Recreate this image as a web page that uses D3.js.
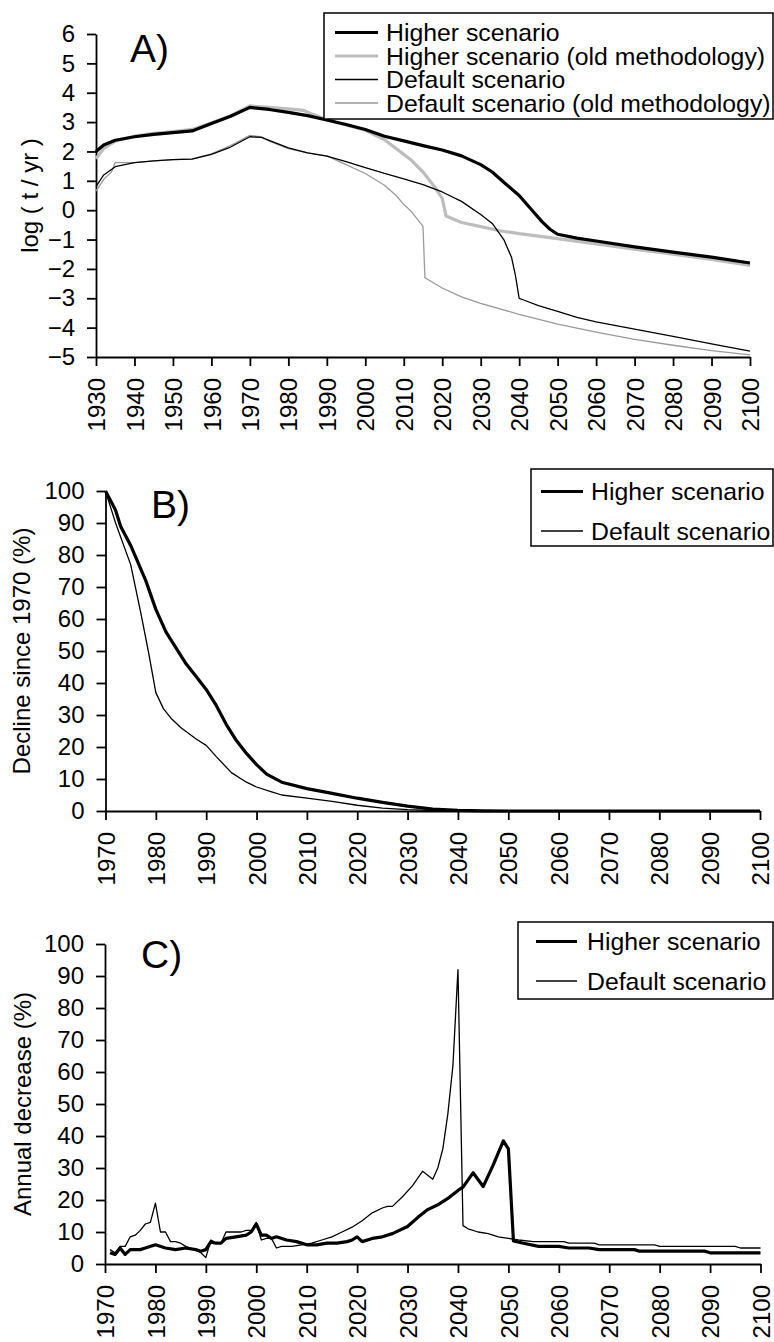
<!DOCTYPE html>
<html>
<head>
<meta charset="utf-8">
<script src="https://cdn.jsdelivr.net/npm/d3@7"></script>
<style>
  body { margin: 0; background: #fff; }
  text { font-family: "Liberation Sans", Arial, sans-serif; fill: #000; }
</style>
</head>
<body>
<svg id="grafico" width="774" height="1342"></svg>
<script>

// ---- dati ----

// A) log ( t / yr )
let aHigher = [[1930,2.0],[1932,2.22],[1935,2.38],[1940,2.5],[1945,2.58],[1950,2.64],[1955,2.7],[1958,2.85],[1960,2.95],[1965,3.2],[1970,3.5],[1975,3.43],[1980,3.33],[1985,3.22],[1990,3.07],[1995,2.92],[2000,2.75],[2005,2.52],[2010,2.36],[2015,2.2],[2020,2.05],[2025,1.85],[2030,1.55],[2033,1.3],[2036,0.95],[2040,0.5],[2043,0.05],[2046,-0.4],[2048,-0.65],[2050,-0.82],[2055,-0.95],[2060,-1.05],[2070,-1.25],[2080,-1.43],[2090,-1.6],[2100,-1.8]];
let aHigherOld = [[1930,1.75],[1932,2.1],[1935,2.35],[1940,2.52],[1945,2.62],[1950,2.68],[1955,2.75],[1960,2.97],[1965,3.22],[1970,3.55],[1975,3.5],[1980,3.45],[1984,3.4],[1986,3.28],[1990,3.08],[1995,2.9],[2000,2.72],[2005,2.4],[2008,2.1],[2012,1.7],[2015,1.3],[2018,0.8],[2020,0.4],[2021,-0.2],[2025,-0.42],[2030,-0.56],[2035,-0.7],[2040,-0.8],[2050,-0.97],[2060,-1.15],[2070,-1.33],[2080,-1.5],[2090,-1.68],[2100,-1.88]];
let aDefault = [[1930,0.8],[1932,1.2],[1935,1.48],[1940,1.62],[1945,1.68],[1950,1.72],[1955,1.74],[1960,1.9],[1965,2.15],[1970,2.5],[1973,2.48],[1975,2.38],[1980,2.12],[1985,1.95],[1990,1.84],[1995,1.65],[2000,1.45],[2005,1.25],[2010,1.07],[2015,0.87],[2020,0.62],[2025,0.3],[2030,-0.15],[2033,-0.45],[2036,-1.0],[2038,-1.6],[2039,-2.2],[2040,-3.0],[2041,-3.05],[2045,-3.25],[2050,-3.45],[2055,-3.65],[2060,-3.8],[2070,-4.05],[2080,-4.3],[2090,-4.55],[2100,-4.8]];
let aDefaultOld = [[1930,0.65],[1932,1.05],[1934,1.3],[1935,1.62],[1940,1.62],[1945,1.68],[1950,1.72],[1955,1.75],[1960,1.92],[1965,2.2],[1970,2.55],[1973,2.5],[1975,2.35],[1980,2.1],[1985,1.95],[1990,1.85],[1995,1.55],[2000,1.25],[2005,0.85],[2008,0.5],[2010,0.2],[2012,-0.05],[2015,-0.55],[2015.5,-2.3],[2020,-2.65],[2025,-2.95],[2030,-3.17],[2040,-3.55],[2050,-3.88],[2060,-4.15],[2070,-4.4],[2080,-4.6],[2090,-4.78],[2100,-4.93]];

// B) Decline since 1970 (%)
let bHigher = [[1970,100],[1971,97],[1972,94],[1973,89],[1975,83],[1978,72],[1980,63],[1982,56],[1984,51],[1986,46],[1988,42],[1990,38],[1992,33],[1994,27],[1996,22],[1998,18],[2000,14.5],[2002,11.5],[2005,9],[2010,7],[2015,5.5],[2020,4],[2025,2.7],[2030,1.5],[2035,0.6],[2040,0.2],[2045,0.05],[2050,0],[2100,0]];
let bDefault = [[1970,100],[1972,90],[1975,77],[1977,62],[1978.5,50],[1980,37],[1981.5,32],[1983,29],[1985,26],[1988,22.5],[1990,20.5],[1992,17],[1995,12],[1998,9],[2000,7.5],[2003,6],[2005,5],[2010,4],[2015,3],[2020,1.8],[2025,0.9],[2030,0.4],[2035,0.15],[2040,0],[2100,0]];

// C) Annual decrease (%)
let cHigher = [[1971,3.5],[1972,3],[1973,5],[1974,3],[1975,4.5],[1977,4.5],[1978,5],[1980,6],[1982,5],[1984,4.5],[1986,5],[1988,4.5],[1989,4],[1990,4.5],[1991,7],[1992,6.5],[1993,6.5],[1994,8],[1996,8.5],[1998,9],[1999,10],[2000,12.5],[2001,9],[2002,9],[2003,8],[2004,8.5],[2006,7.5],[2008,7],[2010,6],[2012,6],[2014,6.5],[2016,6.5],[2018,7],[2019,7.5],[2020,8.5],[2021,7],[2023,8],[2025,8.5],[2027,9.5],[2030,11.7],[2032,14.5],[2034,17],[2036,18.5],[2038,20.5],[2040,23],[2041,24],[2043,28.5],[2045,24.2],[2047,31],[2049,38.5],[2050,36],[2051,7.2],[2053,6.5],[2056,5.5],[2060,5.5],[2062,5],[2066,5],[2068,4.5],[2075,4.5],[2076,4],[2089,4],[2090,3.5],[2100,3.5]];
let cDefault = [[1971,4.5],[1972,3.5],[1973,5.5],[1974,5.5],[1975,8.5],[1976,9],[1977,10.5],[1978,12.5],[1979,13],[1980,19],[1981,10],[1982,10],[1983,7],[1984,7],[1985,6.5],[1986,5.5],[1987,5],[1988,4.5],[1989,3.5],[1990,2],[1991,7.5],[1992,6.5],[1993,6.5],[1994,10],[1995,10],[1996,10],[1997,10],[1998,10.5],[1999,10.5],[2000,13],[2001,7.5],[2002,8],[2003,8],[2004,5],[2005,5.5],[2007,5.5],[2009,6],[2011,6.5],[2013,7.5],[2015,8.5],[2017,10],[2019,11.5],[2021,13.5],[2023,16],[2025,17.5],[2026,18],[2027,18],[2029,21],[2031,24.5],[2033,29],[2035,26.5],[2036,30],[2037,36],[2038,47],[2039,62],[2040,92],[2041,12],[2042,11],[2044,10],[2046,9.5],[2048,8.5],[2050,8],[2052,7.5],[2055,7],[2061,7],[2062,6.5],[2067,6.5],[2068,6],[2079,6],[2080,5.5],[2095,5.5],[2096,5],[2100,5]];

// tick
let aYearTicks = d3.range(1930, 2101, 10);
let bcYearTicks = d3.range(1970, 2101, 10);
let aValueTicks = d3.range(-5, 7, 1);
let bcValueTicks = d3.range(0, 101, 10);

// stili delle serie
let stile = {
    higher:     { color: "#000000", width: 3.2 },
    higherOld:  { color: "#bdbdbd", width: 3.2 },
    def:        { color: "#000000", width: 1.3 },
    defOld:     { color: "#9a9a9a", width: 1.3 }
};

let svg = d3.select("#grafico");


// Funzione per disegnare un pannello con assi e linee
function disegnaPannello(p) {
    let x = d3.scaleLinear().domain(p.xDomain).range([p.left, p.right]);
    let y = d3.scaleLinear().domain(p.yDomain).range([p.bottom, p.top]);

    let g = svg.append("g");

    // asse y
    let ay = g.append("g")
        .attr("transform", `translate(${p.left},0)`)
        .call(d3.axisLeft(y).tickValues(p.yTicks).tickSize(9).tickSizeOuter(0).tickPadding(12).tickFormat(d3.format("d")));

    // asse x
    let ax = g.append("g")
        .attr("transform", `translate(0,${p.bottom})`)
        .call(d3.axisBottom(x).tickValues(p.xTicks).tickSize(9).tickSizeOuter(0).tickFormat(d3.format("d")));

    ax.selectAll(".tick text")
        .attr("transform", "rotate(-90)")
        .attr("text-anchor", "end")
        .attr("x", -21)
        .attr("y", 0)
        .attr("dy", "0.36em");

    [ax, ay].forEach((a) => {
        a.selectAll("path, line").attr("stroke", "#000").attr("stroke-width", 1.8);
        a.selectAll("text").style("font-size", "24px").style("font-family", "'Liberation Sans', Arial, sans-serif");
    });

    // titolo asse y
    g.append("text")
        .attr("transform", `translate(${p.ylabelX},${(p.top + p.bottom) / 2}) rotate(-90)`)
        .attr("text-anchor", "middle")
        .style("font-size", "24px")
        .text(p.ylabel);

    // lettera del pannello
    g.append("text")
        .attr("x", p.letterX)
        .attr("y", p.letterY)
        .style("font-size", "39px")
        .text(p.letter);

    let linea = d3.line()
        .x((d) => x(d[0]))
        .y((d) => y(d[1]));

    p.series.forEach((s) => {
        g.append("path")
            .datum(s.data)
            .attr("d", linea)
            .attr("fill", "none")
            .attr("stroke", s.style.color)
            .attr("stroke-width", s.style.width)
            .attr("stroke-linejoin", "round");
    });

    // legenda
    let L = p.legend;
    g.append("rect")
        .attr("x", L.x).attr("y", L.y)
        .attr("width", L.w).attr("height", L.h)
        .attr("fill", "#fff")
        .attr("stroke", "#000")
        .attr("stroke-width", 1.5);

    L.items.forEach((it, i) => {
        let yy = L.y + L.first + i * L.step;
        g.append("line")
            .attr("x1", L.lineX1).attr("x2", L.lineX2)
            .attr("y1", yy).attr("y2", yy)
            .attr("stroke", it.style.color)
            .attr("stroke-width", it.style.width);
        g.append("text")
            .attr("x", L.textX)
            .attr("y", yy + 8.5)
            .style("font-size", "24.8px")
            .text(it.label);
    });
}


// Pannello A
disegnaPannello({
    left: 96, right: 750, top: 34, bottom: 357,
    xDomain: [1930, 2100], yDomain: [-5, 6],
    xTicks: aYearTicks, yTicks: aValueTicks,
    ylabel: "log ( t / yr )", ylabelX: 38,
    letter: "A)", letterX: 130, letterY: 62,
    series: [
        { data: aHigherOld, style: stile.higherOld },
        { data: aHigher, style: stile.higher },
        { data: aDefaultOld, style: stile.defOld },
        { data: aDefault, style: stile.def }
    ],
    legend: {
        x: 324, y: 13, w: 449, h: 106,
        first: 19.5, step: 23.5,
        lineX1: 335, lineX2: 378, textX: 386,
        items: [
            { label: "Higher scenario", style: stile.higher },
            { label: "Higher scenario (old methodology)", style: stile.higherOld },
            { label: "Default scenario", style: stile.def },
            { label: "Default scenario (old methodology)", style: stile.defOld }
        ]
    }
});

// Pannello B
disegnaPannello({
    left: 105.5, right: 760, top: 491, bottom: 811,
    xDomain: [1970, 2100], yDomain: [0, 100],
    xTicks: bcYearTicks, yTicks: bcValueTicks,
    ylabel: "Decline since 1970 (%)", ylabelX: 30,
    letter: "B)", letterX: 151, letterY: 518,
    series: [
        { data: bDefault, style: stile.def },
        { data: bHigher, style: stile.higher }
    ],
    legend: {
        x: 531, y: 469, w: 242, h: 77,
        first: 22.5, step: 39.5,
        lineX1: 541, lineX2: 583, textX: 591,
        items: [
            { label: "Higher scenario", style: stile.higher },
            { label: "Default scenario", style: stile.def }
        ]
    }
});

// Pannello C
disegnaPannello({
    left: 105, right: 760.5, top: 944, bottom: 1264,
    xDomain: [1970, 2100], yDomain: [0, 100],
    xTicks: bcYearTicks, yTicks: bcValueTicks,
    ylabel: "Annual decrease (%)", ylabelX: 31,
    letter: "C)", letterX: 141, letterY: 968,
    series: [
        { data: cDefault, style: stile.def },
        { data: cHigher, style: stile.higher }
    ],
    legend: {
        x: 518, y: 922, w: 255, h: 77,
        first: 19.5, step: 39.5,
        lineX1: 536, lineX2: 577, textX: 587,
        items: [
            { label: "Higher scenario", style: stile.higher },
            { label: "Default scenario", style: stile.def }
        ]
    }
});

</script>
</body>
</html>
